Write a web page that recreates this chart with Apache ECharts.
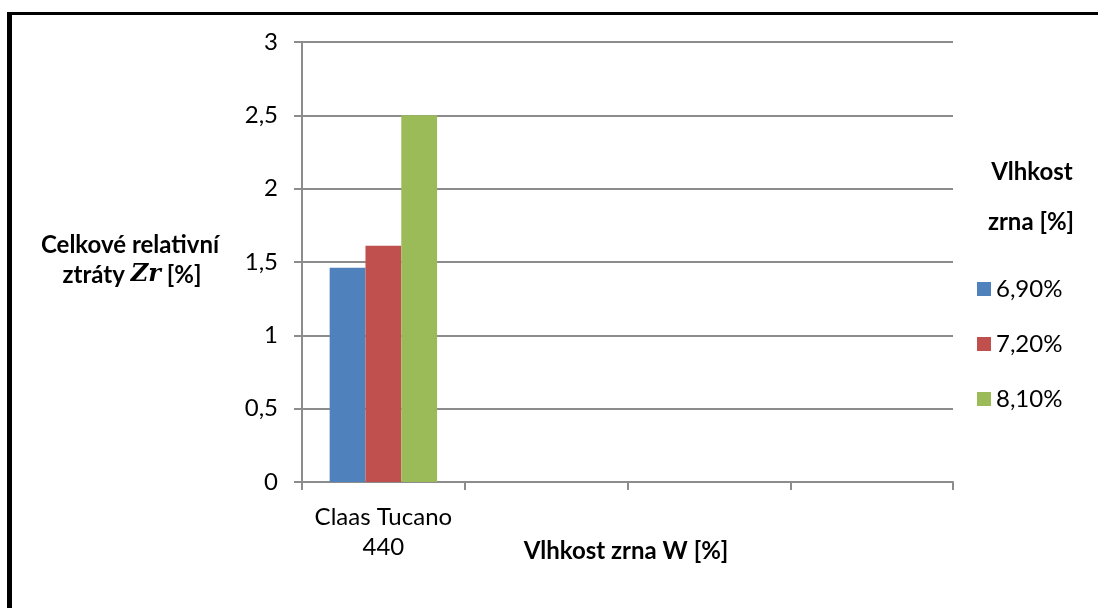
<!DOCTYPE html>
<html>
<head>
<meta charset="utf-8">
<script src="https://cdn.jsdelivr.net/npm/echarts@6/dist/echarts.min.js"></script>
<style>
	html, body { margin: 0; padding: 0; background: #fff; }
	#chart { width: 1098px; height: 608px; }
</style>
</head>
<body>
<div id="chart"></div>
<script>
/*kategorie (jen prvni ma popisek)*/
var categories = ['Claas Tucano\n440', '', '', ''];
/*nazvy serii*/
var seriesNames = ['6,90%', '7,20%', '8,10%'];
/*hodnoty*/
var values69 = [1.46, null, null, null];
var values72 = [1.61, null, null, null];
var values81 = [2.5, null, null, null];
var colors = ['#4F81BD', '#C0504D', '#9BBB59'];

var font = 'Lato, "Open Sans", sans-serif';
var axisGray = '#8c8c8c';

var myChart = echarts.init(document.getElementById('chart'));

var option = {
	backgroundColor: '#fff',
	animation: false,
	grid: {
		left: 302,
		right: 145,
		top: 42,
		bottom: 126
	},
	legend: {
		orient: 'vertical',
		left: 972,
		top: 272,
		itemWidth: 14,
		itemHeight: 14,
		itemGap: 31,
		icon: 'rect',
		textStyle: {
			fontFamily: font,
			fontSize: 24,
			color: '#000',
			lineHeight: 22
		},
		data: seriesNames
	},
	xAxis: {
		type: 'category',
		data: categories,
		axisLine: { lineStyle: { color: axisGray, width: 2 } },
		axisTick: { show: true, length: 8, interval: 0, lineStyle: { color: axisGray, width: 2 } },
		axisLabel: {
			interval: 0,
			margin: 20,
			fontFamily: font,
			fontSize: 24,
			color: '#000',
			lineHeight: 30
		}
	},
	yAxis: {
		type: 'value',
		min: 0,
		max: 3,
		interval: 0.5,
		axisLine: { show: true, lineStyle: { color: axisGray, width: 2 } },
		axisTick: { show: true, length: 8, lineStyle: { color: axisGray, width: 2 } },
		splitLine: { lineStyle: { color: axisGray, width: 2 } },
		axisLabel: {
			margin: 24,
			fontFamily: font,
			fontSize: 24,
			color: '#000',
			formatter: function(v) {
				return String(v).replace('.', ',');
			}
		}
	},
	series: [{
		name: seriesNames[0],
		type: 'bar',
		data: values69,
		barGap: 0,
		barCategoryGap: '34%',
		itemStyle: { color: colors[0] }
	}, {
		name: seriesNames[1],
		type: 'bar',
		data: values72,
		barGap: 0,
		barCategoryGap: '34%',
		itemStyle: { color: colors[1] }
	}, {
		name: seriesNames[2],
		type: 'bar',
		data: values81,
		barGap: 0,
		barCategoryGap: '34%',
		itemStyle: { color: colors[2] }
	}],
	graphic: [
		/*ramecek*/
		{ type: 'rect', shape: { x: 7, y: 12, width: 1091, height: 3 }, style: { fill: '#000' } },
		{ type: 'rect', shape: { x: 7, y: 12, width: 5, height: 596 }, style: { fill: '#000' } },
		/*nazev osy y*/
		{
			type: 'text', x: 130, y: 245,
			style: {
				text: 'Celkové relativní',
				font: 'bold 24px ' + font,
				fill: '#000',
				align: 'center',
				verticalAlign: 'middle'
			}
		},
		{
			type: 'text', x: 132, y: 275,
			style: {
				text: '{a|ztráty }{b|Zr}{a| [%]}',
				align: 'center',
				verticalAlign: 'middle',
				rich: {
					a: { font: 'bold 24px ' + font, fill: '#000' },
					b: { font: 'bold italic 24px "DejaVu Serif", serif', fill: '#000' }
				}
			}
		},
		/*nazev osy x*/
		{
			type: 'text', x: 626, y: 551,
			style: {
				text: 'Vlhkost zrna W [%]',
				font: 'bold 24px ' + font,
				fill: '#000',
				align: 'center',
				verticalAlign: 'middle'
			}
		},
		/*nadpis legendy*/
		{
			type: 'text', x: 1032, y: 172,
			style: {
				text: 'Vlhkost',
				font: 'bold 24px ' + font,
				fill: '#000',
				align: 'center',
				verticalAlign: 'middle'
			}
		},
		{
			type: 'text', x: 1031, y: 222,
			style: {
				text: 'zrna [%]',
				font: 'bold 24px ' + font,
				fill: '#000',
				align: 'center',
				verticalAlign: 'middle'
			}
		}
	]
};
myChart.setOption(option);
</script>
</body>
</html>
